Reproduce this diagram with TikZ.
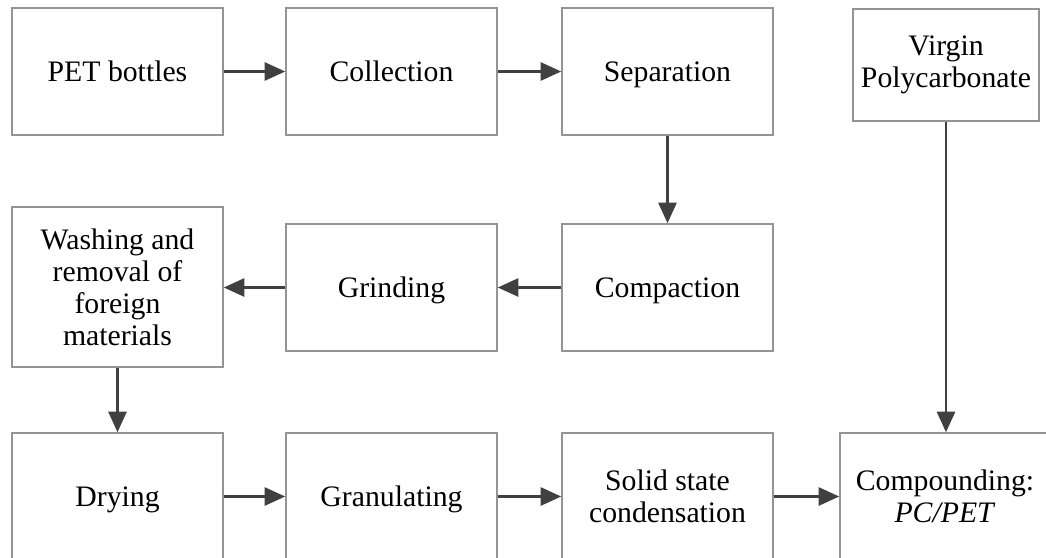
\documentclass[tikz,border=0pt]{standalone}
\usepackage{fontspec}
\setmainfont{Liberation Serif}
\usetikzlibrary{arrows.meta}
\begin{document}
\begin{tikzpicture}[x=0.75pt,y=-0.75pt,
  stepbox/.style={draw=black!42,line width=1.1pt,fill=white,inner sep=0pt,
    align=center,font=\fontsize{22.3}{24}\selectfont,
    minimum width=158.25pt,minimum height=95.25pt},
  oneline/.style={stepbox,text height=14.8pt,text depth=0pt},
  flow/.style={draw=black!75,line width=2.2pt,
    -{Triangle[length=15.5pt,width=13.5pt]}}]
  \useasboundingbox (0,0) rectangle (1046,557);
  \fill[white] (0,0) rectangle (1046,557);
  \clip (0,0) rectangle (1046,557);
  % top row
  \node[oneline] (pet) at (117.5,71.5) {PET bottles};
  \node[oneline] (col) at (391.5,71.5) {Collection};
  \node[oneline] (sep) at (667.5,71.5) {Separation};
  \node[stepbox,minimum width=139.5pt,minimum height=84pt] (vpc) at (946,65) {Virgin\\Polycarbonate};
  % middle row
  \node[stepbox,minimum height=120pt] (wash) at (117.5,287) {Washing and\\removal of\\foreign\\materials};
  \node[oneline] (grind) at (391.5,287.5) {Grinding};
  \node[oneline] (comp) at (667.5,287.5) {Compaction};
  % bottom row
  \node[oneline] (dry) at (117.5,496.5) {Drying};
  \node[oneline] (gran) at (391.5,496.5) {Granulating};
  \node[stepbox] (ssc) at (667.5,496.5) {Solid state\\condensation};
  \node[stepbox,minimum width=157.5pt] (cpd) at (945,496.5) {Compounding:\\\textit{PC/PET}};
  % process flow
  \draw[flow] (pet) -- (col);
  \draw[flow] (col) -- (sep);
  \draw[flow] (sep) -- (comp);
  \draw[flow] (comp) -- (grind);
  \draw[flow] (grind) -- (wash.east |- grind);
  \draw[flow] (wash) -- (dry);
  \draw[flow] (dry) -- (gran);
  \draw[flow] (gran) -- (ssc);
  \draw[flow] (ssc) -- (cpd);
  \draw[flow] (vpc) -- (vpc |- cpd.north);
\end{tikzpicture}
\end{document}
